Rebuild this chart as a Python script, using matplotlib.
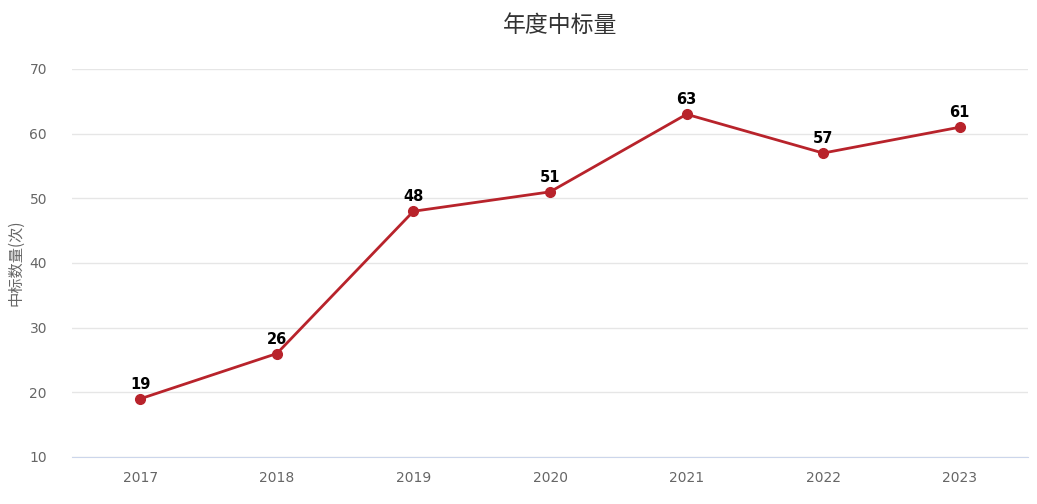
import matplotlib
matplotlib.use("Agg")
import matplotlib.pyplot as plt

plt.rcParams['font.family'] = ['Noto Sans CJK SC', 'DejaVu Sans']

years = ['2017', '2018', '2019', '2020', '2021', '2022', '2023']
counts = [19, 26, 48, 51, 63, 57, 61]
yticks = [10, 20, 30, 40, 50, 60, 70]
title = '年度中标量'
ylabel = '中标数量(次)'

fig = plt.figure(figsize=(10.37, 5.04), dpi=100)
ax = fig.add_axes([72/1037, 1 - 457/504, (1028 - 72)/1037, (457 - 69)/504])

x = list(range(len(years)))
color = '#B8232B'
ax.plot(x, counts, color=color, linewidth=2, marker='o', markersize=7, zorder=3, clip_on=False)
for xi, v in zip(x, counts):
    ax.annotate(str(v), (xi, v), xytext=(0, 5), textcoords='offset points',
                ha='center', va='bottom', fontsize=10.5, fontweight='bold', color='#000000',
                family=['DejaVu Sans'])

ax.set_xlim(-0.5, len(years) - 0.5)
ax.set_ylim(10, 70)
ax.set_yticks(yticks)
ax.set_xticks(x)
ax.set_xticklabels(years)
ax.grid(axis='y', color='#e6e6e6', linewidth=1)
ax.set_axisbelow(True)
for s in ['top', 'right', 'left']:
    ax.spines[s].set_visible(False)
ax.spines['bottom'].set_color('#ccd6eb')
ax.tick_params(axis='both', length=0, colors='#666666', labelsize=10)
ax.tick_params(axis='y', pad=18)
ax.tick_params(axis='x', pad=10)
for lab in ax.get_xticklabels() + ax.get_yticklabels():
    lab.set_family(['DejaVu Sans'])

fig.text(16/1037, 1 - 263/504, ylabel, rotation=90, ha='center', va='center',
         fontsize=11, color='#666666')
fig.text(560/1037, 1 - 25/504, title, ha='center', va='center', fontsize=16.5, color='#333333')

fig.savefig('out.png', dpi=100, facecolor='white')
